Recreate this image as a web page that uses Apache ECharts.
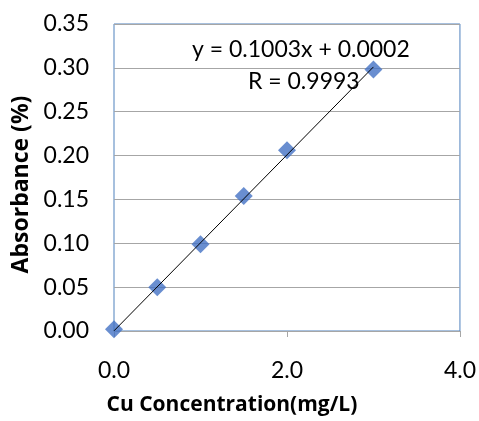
<!DOCTYPE html>
<html>
<head>
<meta charset="utf-8">
<script src="https://cdn.jsdelivr.net/npm/echarts@6/dist/echarts.min.js"></script>
<style>
  html, body { margin: 0; padding: 0; background: #fff; }
  #main { width: 479px; height: 421px; }
</style>
</head>
<body>
<div id="main"></div>
<script>
// data
var concentrations = [0, 0.5, 1.0, 1.5, 2.0, 3.0];
var absorbances = [0.002, 0.050, 0.099, 0.154, 0.206, 0.298];
var slope = 0.1003;
var intercept = 0.0002;
var equationText = "y = 0.1003x + 0.0002";
var rText = "R = 0.9993";

var points = concentrations.map(function (c, i) { return [c, absorbances[i]]; });
var fitX = [0, 3];
var fitLine = fitX.map(function (x) { return [x, slope * x + intercept]; });

var font = "Lato, 'Open Sans', sans-serif";
var titleFont = "'Open Sans', Lato, sans-serif";
var chart = echarts.init(document.getElementById("main"));
chart.setOption({
  animation: false,
  backgroundColor: "#fff",
  grid: {
    show: true,
    left: 114,
    right: 18,
    top: 24,
    bottom: 89,
    borderColor: "#4f81bd",
    borderWidth: 1
  },
  xAxis: {
    type: "value",
    min: 0,
    max: 4,
    interval: 2,
    name: "Cu Concentration(mg/L)",
    nameLocation: "middle",
    nameGap: 64,
    nameTextStyle: {
      fontFamily: titleFont, fontSize: 21, fontWeight: "bold", color: "#000",
      padding: [0, 110, 0, 0]
    },
    axisLine: { show: true, lineStyle: { color: "#a6a6a6" } },
    axisTick: { show: true, length: 6, lineStyle: { color: "#a6a6a6" } },
    splitLine: { show: false },
    axisLabel: {
      margin: 28,
      fontFamily: font,
      fontSize: 23,
      color: "#000",
      formatter: function (v) { return v.toFixed(1); }
    }
  },
  yAxis: {
    type: "value",
    min: 0,
    max: 0.35,
    interval: 0.05,
    name: "Absorbance (%)",
    nameLocation: "middle",
    nameGap: 74,
    nameRotate: 90,
    nameTextStyle: {
      fontFamily: titleFont, fontSize: 23, fontWeight: "bold", color: "#000",
      padding: [0, 14, 0, 0]
    },
    axisLine: { show: false },
    axisTick: { show: false },
    splitLine: { show: true, lineStyle: { color: "#a6a6a6", width: 1 } },
    axisLabel: {
      margin: 25,
      fontFamily: font,
      fontSize: 23,
      color: "#000",
      formatter: function (v) { return v.toFixed(2); }
    }
  },
  series: [
    {
      type: "line",
      data: fitLine,
      showSymbol: false,
      lineStyle: { color: "#000", width: 1 },
      z: 3
    },
    {
      type: "scatter",
      data: points,
      symbol: "diamond",
      symbolSize: 18,
      itemStyle: { color: "#4472c4" },
      z: 2
    }
  ],
  graphic: [
    {
      type: "text",
      x: 192,
      y: 50,
      style: { text: equationText, fontFamily: font, fontSize: 23, fill: "#000", verticalAlign: "middle" }
    },
    {
      type: "text",
      x: 248,
      y: 82,
      style: { text: rText, fontFamily: font, fontSize: 23, fill: "#000", verticalAlign: "middle" }
    }
  ]
});
</script>
</body>
</html>
